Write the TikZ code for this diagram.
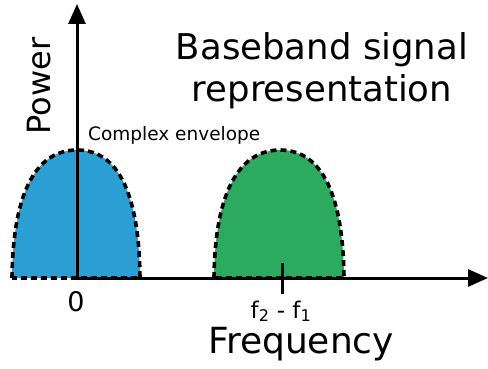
\documentclass[tikz,border=0pt]{standalone}
\usepackage{fontspec}
\setmainfont{DejaVu Sans}
\usetikzlibrary{arrows.meta}
\definecolor{lobeblue}{RGB}{43,159,212}
\definecolor{lobegreen}{RGB}{43,170,96}

\begin{document}
\begin{tikzpicture}[
  x=1pt, y=-1pt,
  axis/.style={line width=3pt, -{Triangle[length=20pt, width=17pt]}},
  lobe/.style={line width=3.6pt, dash pattern=on 6pt off 4pt},
  lbl/.style={inner sep=0pt},
]
\useasboundingbox (0,0) rectangle (488,369);

% ---- spectra --------------------------------------------------------------
\filldraw[lobe, fill=lobeblue] (12,278) .. controls (13,185) and (40,150) .. (77,150)
  .. controls (114,150) and (139,185) .. (140,278) -- cycle;
\filldraw[lobe, fill=lobegreen] (214,278) .. controls (215,185) and (243,150) .. (280,150)
  .. controls (317,150) and (343,185) .. (344,278) -- cycle;

% ---- axes -----------------------------------------------------------------
\coordinate (orig) at (77,278);
\coordinate (ftip) at (488,278);
\coordinate (ptip) at (77,4);
\draw[axis] (orig) -- (ftip);
\draw[axis] (orig) -- (ptip);
\coordinate (tktop) at (282,263);
\coordinate (tkbot) at (282,294);
\draw[line width=3pt] (tktop) -- (tkbot);

% ---- labels ---------------------------------------------------------------
\node[lbl, font=\fontsize{27}{30}\selectfont, anchor=base] (zero) at (76,311) {0};
\node[lbl, font=\fontsize{23}{25}\selectfont, anchor=base] (diff) at (281,318)
  {f\textsubscript{2} - f\textsubscript{1}};
\node[lbl, font=\fontsize{36}{40}\selectfont, anchor=base] (freq) at (301,353) {Frequency};
\node[lbl, font=\fontsize{32}{36}\selectfont, rotate=90, anchor=base] (pow) at (50,86) {Power};
\node[lbl, font=\fontsize{18.5}{20}\selectfont, anchor=base west] (env) at (88,141) {Complex envelope};
\node[lbl, font=\fontsize{35.5}{42}\selectfont, anchor=base] (title) at (322,60) {Baseband signal};
\node[lbl, font=\fontsize{35.5}{42}\selectfont, anchor=base] (title2) at (322,102) {representation};

\end{tikzpicture}
\end{document}
